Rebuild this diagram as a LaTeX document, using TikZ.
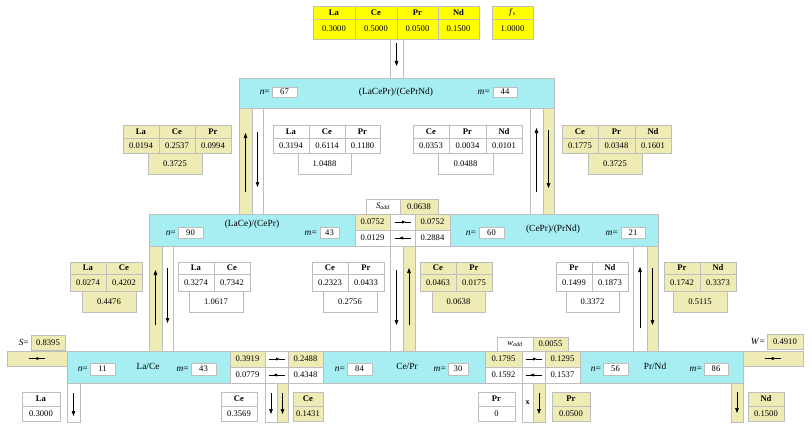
\documentclass[tikz,border=0pt]{standalone}
\usepackage{fontspec}
\setmainfont{Liberation Serif}
\usetikzlibrary{arrows.meta}
\definecolor{cyanc}{RGB}{166,238,242}
\definecolor{khaki}{RGB}{238,235,180}
\definecolor{bord}{RGB}{190,190,190}
\definecolor{yel}{RGB}{255,255,0}
\newcommand\bx[7]{\node[#6, minimum width={(#4-#2)*1pt}, minimum height={(#5-#3)*1pt}] (#1) at ({(#2+#4)/2},{(#3+#5)/2}) {#7};}
\newcommand\tcol[9]{\bx{#1h}{#2}{#4}{#3}{#5}{#7,hd}{#8}\bx{#1v}{#2}{#5}{#3}{#6}{#7}{#9}}
\newcommand\uparr[3]{\draw[arr] ([yshift=#2pt]#1.south) -- ([yshift=-#3pt]#1.north);}
\newcommand\dnarr[3]{\draw[arr] ([yshift=-#2pt]#1.north) -- ([yshift=#3pt]#1.south);}
\newcommand\rglyph[1]{\draw[glyph,-{Latex[length=4pt,width=3.4pt]}] ([xshift=-8pt]#1.center) -- ([xshift=3.5pt]#1.center); \draw[glyph] ([xshift=2pt]#1.center) -- ([xshift=8pt]#1.center);}
\newcommand\lglyph[1]{\draw[glyph,-{Latex[length=4pt,width=3.4pt]}] ([xshift=8pt]#1.center) -- ([xshift=-3.5pt]#1.center); \draw[glyph] ([xshift=-2pt]#1.center) -- ([xshift=-8pt]#1.center);}
\begin{document}
\begin{tikzpicture}[x=1pt,y=-1pt,
  cell/.style={draw=bord, line width=0.6pt, inner sep=0pt, outer sep=0pt, font=\fontsize{8.6}{10}\selectfont},
  cy/.style={cell, fill=cyanc},
  kh/.style={cell, fill=khaki},
  wh/.style={cell, fill=white},
  ye/.style={cell, fill=yel},
  hd/.style={font=\fontsize{8.6}{10}\selectfont\bfseries},
  lbl/.style={inner sep=0pt, font=\fontsize{9.4}{10}\selectfont},
  glyph/.style={line width=0.75pt},
  arr/.style={-{Triangle[length=5pt,width=3.6pt]}, line width=0.7pt}]
\fill[white] (0,0) rectangle (812,428);
\useasboundingbox (0,0) rectangle (812,428);

% ---------- feed table ----------
\tcol{tLa}{313}{355}{6}{19}{39}{ye}{La}{0.3000}
\tcol{tCe}{355}{397}{6}{19}{39}{ye}{Ce}{0.5000}
\tcol{tPr}{397}{438}{6}{19}{39}{ye}{Pr}{0.0500}
\tcol{tNd}{438}{479}{6}{19}{39}{ye}{Nd}{0.1500}
\tcol{fs}{492}{533}{6}{19}{39}{ye}{\mdseries\textit{f}\textsubscript{\textit{s}}}{1.0000}
\bx{feed}{390}{39}{403}{78}{wh}{}
\dnarr{feed}{4}{12}

% ---------- strips under top column ----------
\bx{sA}{239}{108}{252}{214}{kh}{}
\bx{sB}{252}{108}{263}{214}{wh}{}
\bx{sC}{530}{108}{543}{214}{wh}{}
\bx{sD}{543}{108}{554}{214}{kh}{}
\uparr{sA}{22}{25}
\dnarr{sB}{24}{27}
\uparr{sC}{22}{20}
\dnarr{sD}{22}{26}

% ---------- top column ----------
\bx{c1}{239}{78}{554}{108}{cy}{}
\node[lbl,anchor=east] (c1n) at (270,92) {\textit{n}=};
\bx{c1nb}{272}{87}{297}{97}{wh}{67}
\node[lbl] (c1t) at (396,92) {(LaCePr)/(CePrNd)};
\node[lbl,anchor=east] (c1m) at (490,92) {\textit{m}=};
\bx{c1mb}{493}{87}{517}{97}{wh}{44}

% ---------- top tables ----------
\tcol{aLa}{123}{159}{125}{138}{153}{kh}{La}{0.0194}
\tcol{aCe}{159}{195}{125}{138}{153}{kh}{Ce}{0.2537}
\tcol{aPr}{195}{231}{125}{138}{153}{kh}{Pr}{0.0994}
\bx{aS}{148}{153}{202}{174}{kh}{0.3725}
\tcol{bLa}{273}{309}{125}{138}{153}{wh}{La}{0.3194}
\tcol{bCe}{309}{345}{125}{138}{153}{wh}{Ce}{0.6114}
\tcol{bPr}{345}{380}{125}{138}{153}{wh}{Pr}{0.1180}
\bx{bS}{298}{153}{351}{174}{wh}{1.0488}
\tcol{cCe}{413}{449}{125}{138}{153}{wh}{Ce}{0.0353}
\tcol{cPr}{449}{486}{125}{138}{153}{wh}{Pr}{0.0034}
\tcol{cNd}{486}{522}{125}{138}{153}{wh}{Nd}{0.0101}
\bx{cS}{438}{153}{493}{174}{wh}{0.0488}
\tcol{dCe}{562}{598}{125}{138}{153}{kh}{Ce}{0.1775}
\tcol{dPr}{598}{635}{125}{138}{153}{kh}{Pr}{0.0348}
\tcol{dNd}{635}{671}{125}{138}{153}{kh}{Nd}{0.1601}
\bx{dS}{588}{153}{642}{174}{kh}{0.3725}

% ---------- middle strips ----------
\bx{sE}{149}{246}{162}{351}{kh}{}
\bx{sF}{162}{246}{173}{351}{wh}{}
\bx{sG}{390}{246}{403}{351}{wh}{}
\bx{sH}{403}{246}{415}{351}{kh}{}
\bx{sI}{633}{246}{647}{351}{wh}{}
\bx{sJ}{647}{246}{658}{351}{kh}{}
\uparr{sE}{26}{24}
\dnarr{sF}{22}{28}
\dnarr{sG}{24}{26}
\uparr{sH}{26}{22}
\uparr{sI}{23}{21}
\dnarr{sJ}{22}{26}

% ---------- middle row ----------
\bx{c2}{149}{214}{355}{246}{cy}{}
\node[lbl,anchor=east] (c2n) at (176,233) {\textit{n}=};
\bx{c2nb}{178}{227}{203}{238}{wh}{90}
\node[lbl] (c2t) at (252,224) {(LaCe)/(CePr)};
\node[lbl,anchor=east] (c2m) at (317,233) {\textit{m}=};
\bx{c2mb}{320}{227}{339}{238}{wh}{43}

\bx{x1a}{355}{214}{390}{230}{kh}{0.0752}
\bx{x1b}{390}{214}{415}{230}{wh}{}
\bx{x1c}{415}{214}{450}{230}{kh}{0.0752}
\bx{x1d}{355}{230}{390}{246}{wh}{0.0129}
\bx{x1e}{390}{230}{415}{246}{wh}{}
\bx{x1f}{415}{230}{450}{246}{wh}{0.2884}
\rglyph{x1b}
\lglyph{x1e}
\bx{sad}{366}{199}{400}{214}{wh}{\textit{S}\textsubscript{\textit{add}}}
\bx{sadv}{400}{199}{438}{214}{kh}{0.0638}

\bx{c3}{450}{214}{658}{246}{cy}{}
\node[lbl,anchor=east] (c3n) at (476,233) {\textit{n}=};
\bx{c3nb}{479}{227}{504}{238}{wh}{60}
\node[lbl] (c3t) at (553,229) {(CePr)/(PrNd)};
\node[lbl,anchor=east] (c3m) at (618,233) {\textit{m}=};
\bx{c3mb}{621}{227}{645}{238}{wh}{21}

% ---------- second-level tables ----------
\tcol{eLa}{70}{106}{262}{274}{291}{kh}{La}{0.0274}
\tcol{eCe}{106}{142}{262}{274}{291}{kh}{Ce}{0.4202}
\bx{eS}{82}{291}{136}{312}{kh}{0.4476}
\tcol{fLa}{178}{214}{262}{274}{291}{wh}{La}{0.3274}
\tcol{fCe}{214}{250}{262}{274}{291}{wh}{Ce}{0.7342}
\bx{fS}{189}{291}{243}{312}{wh}{1.0617}
\tcol{gCe}{312}{348}{262}{274}{291}{wh}{Ce}{0.2323}
\tcol{gPr}{348}{384}{262}{274}{291}{wh}{Pr}{0.0433}
\bx{gS}{323}{291}{377}{312}{wh}{0.2756}
\tcol{hCe}{420}{456}{262}{274}{291}{kh}{Ce}{0.0463}
\tcol{hPr}{456}{492}{262}{274}{291}{kh}{Pr}{0.0175}
\bx{hS}{432}{291}{485}{312}{kh}{0.0638}
\tcol{iPr}{556}{592}{262}{274}{291}{wh}{Pr}{0.1499}
\tcol{iNd}{592}{628}{262}{274}{291}{wh}{Nd}{0.1873}
\bx{iS}{566}{291}{619}{312}{wh}{0.3372}
\tcol{jPr}{664}{700}{262}{274}{291}{kh}{Pr}{0.1742}
\tcol{jNd}{700}{736}{262}{274}{291}{kh}{Nd}{0.3373}
\bx{jS}{673}{291}{727}{312}{kh}{0.5115}

% ---------- bottom strips ----------
\bx{bA}{67}{383}{80}{422}{wh}{}
\bx{bB}{265}{383}{277}{422}{wh}{}
\bx{bC}{277}{383}{288}{422}{kh}{}
\bx{bD}{522}{383}{533}{422}{wh,font=\fontsize{8}{9}\selectfont\bfseries}{x}
\bx{bE}{533}{383}{545}{422}{kh}{}
\bx{bF}{731}{383}{743}{422}{kh}{}
\dnarr{bA}{10}{6}
\dnarr{bB}{10}{8}
\dnarr{bC}{10}{8}
\dnarr{bE}{10}{8}
\dnarr{bF}{9}{9}

% ---------- bottom row ----------
\node[lbl,anchor=east] (sl) at (29,342) {\textit{S}=};
\bx{sv}{31}{335}{65}{350}{kh}{0.8395}
\bx{sfeed}{7}{351}{67}{366}{kh}{}
\rglyph{sfeed}

\bx{c4}{67}{351}{230}{383}{cy}{}
\node[lbl,anchor=east] (c4n) at (88,369) {\textit{n}=};
\bx{c4nb}{90}{363}{115}{375}{wh}{11}
\node[lbl] (c4t) at (148,366) {La/Ce};
\node[lbl,anchor=east] (c4m) at (189,369) {\textit{m}=};
\bx{c4mb}{191}{363}{216}{375}{wh}{43}

\bx{y1a}{230}{351}{265}{367}{kh}{0.3919}
\bx{y1b}{265}{351}{288}{367}{wh}{}
\bx{y1c}{288}{351}{323}{367}{kh}{0.2488}
\bx{y1d}{230}{367}{265}{383}{wh}{0.0779}
\bx{y1e}{265}{367}{288}{383}{wh}{}
\bx{y1f}{288}{367}{323}{383}{wh}{0.4348}
\rglyph{y1b}
\lglyph{y1e}

\bx{c5}{323}{351}{485}{383}{cy}{}
\node[lbl,anchor=east] (c5n) at (345,369) {\textit{n}=};
\bx{c5nb}{347}{363}{372}{375}{wh}{84}
\node[lbl] (c5t) at (407,366) {Ce/Pr};
\node[lbl,anchor=east] (c5m) at (446,369) {\textit{m}=};
\bx{c5mb}{448}{363}{468}{375}{wh}{30}

\bx{y2a}{485}{351}{522}{367}{kh}{0.1795}
\bx{y2b}{522}{351}{545}{367}{wh}{}
\bx{y2c}{545}{351}{580}{367}{kh}{0.1295}
\bx{y2d}{485}{367}{522}{383}{wh}{0.1592}
\bx{y2e}{522}{367}{545}{383}{wh}{}
\bx{y2f}{545}{367}{580}{383}{wh}{0.1537}
\rglyph{y2b}
\lglyph{y2e}
\bx{wad}{497}{337}{533}{351}{wh}{\textit{w}\textsubscript{\textit{add}}}
\bx{wadv}{533}{337}{568}{351}{kh}{0.0055}

\bx{c6}{580}{351}{743}{383}{cy}{}
\node[lbl,anchor=east] (c6n) at (601,369) {\textit{n}=};
\bx{c6nb}{603}{363}{628}{375}{wh}{56}
\node[lbl] (c6t) at (655,366) {Pr/Nd};
\node[lbl,anchor=east] (c6m) at (702,369) {\textit{m}=};
\bx{c6mb}{704}{363}{728}{375}{wh}{86}

\bx{wfeed}{743}{351}{803}{366}{kh}{}
\lglyph{wfeed}
\node[lbl,anchor=east] (wl) at (765,341) {\textit{W}=};
\bx{wv}{767}{334}{803}{349}{kh}{0.4910}

% ---------- outputs ----------
\tcol{oLa}{22}{60}{392}{406}{421}{wh}{La}{0.3000}
\tcol{oCe}{221}{257}{392}{406}{421}{wh}{Ce}{0.3569}
\tcol{oCf}{293}{323}{392}{406}{421}{kh}{Ce}{0.1431}
\tcol{oPr}{478}{515}{392}{406}{421}{wh}{Pr}{0}
\tcol{oPs}{552}{590}{392}{406}{421}{kh}{Pr}{0.0500}
\tcol{oNd}{748}{784}{392}{406}{421}{kh}{Nd}{0.1500}
\end{tikzpicture}
\end{document}
